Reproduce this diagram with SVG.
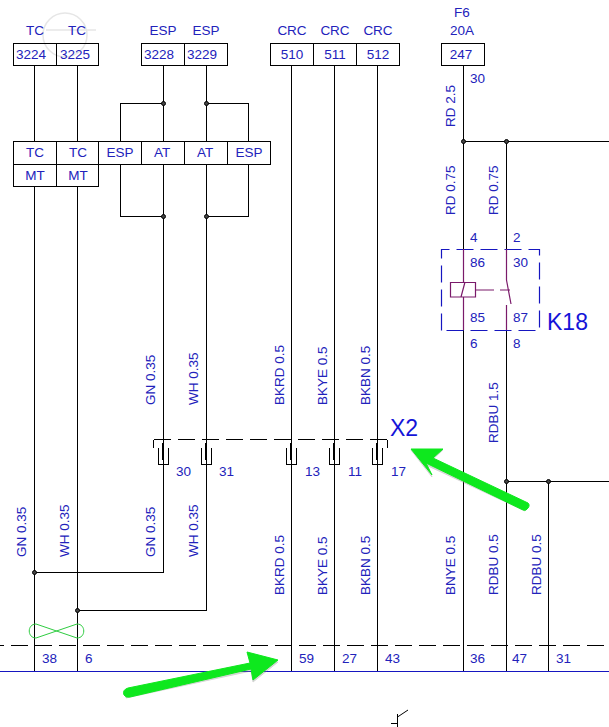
<svg xmlns="http://www.w3.org/2000/svg" width="609" height="727" viewBox="0 0 609 727">
<style>
text{font-family:"Liberation Sans",Arial,sans-serif;font-size:13.5px;fill:#2222bb}
.c{text-anchor:middle}
.b,.w{fill:none;stroke:#000;stroke-width:1;shape-rendering:crispEdges}
.d{fill:none;stroke:#000;stroke-width:1;stroke-dasharray:17 7;shape-rendering:crispEdges}
.j{fill:#444;stroke:#000;stroke-width:1}
.p{fill:none;stroke:#7a1a6a;stroke-width:1.2}
.g{fill:#0ee81e;stroke:#0ee81e;stroke-linejoin:round}
.s{fill:#888;stroke:#888;opacity:.35;stroke-linejoin:round}
.big{font-size:23px;fill:#1414d8}
</style>
<rect width="609" height="727" fill="#fff"/>
<g id="watermark" fill="none" stroke="#e6e6e6" stroke-width="1.5"><circle cx="65" cy="35" r="22"/><path d="M46 30H96"/></g>
<g id="connectors">
<path class="w" d="M34.500 65V141M34.500 186V671M77.500 65V141M77.500 186V671M163.500 65V141M163.500 164V572.500H34.500M206.500 65V141M206.500 164V610.500H77.500"/>
<path class="w" d="M120.500 141V103.500H163.500M248.500 141V103.500H206.500M120.500 164V216.500H163.500M248.500 164V216.500H206.500"/>
<path class="w" d="M291.500 65V671M334.500 65V671M377.500 65V671M463.500 65V282M463.500 297V671M506.500 141V280M506.500 305V671M548.500 481V671M463.500 141.500H609M506.500 481.500H609"/>
<path class="d" d="M153.500 439.500H387"/>
<path class="w" d="M153.500 439.500V448M387.500 439.500V448"/>
<path class="d" d="M0 645.500H609" stroke-dashoffset="13"/>
<path d="M0 671.500H609" fill="none" stroke="#1616c0" stroke-width="1" shape-rendering="crispEdges"/>
<path class="w" style="shape-rendering:auto" d="M397.500 727V714M391 723.500H397.500M397.500 717L408 710"/>
<circle class="j" cx="163.500" cy="103.500" r="2"/><circle class="j" cx="206.500" cy="103.500" r="2"/>
<circle class="j" cx="163.500" cy="216.500" r="2"/><circle class="j" cx="206.500" cy="216.500" r="2"/>
<circle class="j" cx="34.500" cy="572.500" r="2"/><circle class="j" cx="77.500" cy="610.500" r="2"/>
<circle class="j" cx="463.500" cy="141.500" r="2"/><circle class="j" cx="506.500" cy="141.500" r="2"/>
<circle class="j" cx="506.500" cy="481.500" r="2"/><circle class="j" cx="548.500" cy="481.500" r="2"/>
</g>
<g id="top-tc"><path class="b" d="M13.500 43.500H98.500V65.500H13.500ZM56.500 43.500V65"/>
<text class="c" x="35" y="35">TC</text><text class="c" x="77" y="35">TC</text>
<text class="c" x="31" y="59">3224</text><text class="c" x="75" y="59">3225</text></g>
<g id="top-esp"><path class="b" d="M141.500 43.500H227.500V65.500H141.500ZM184.500 43.500V65"/>
<text class="c" x="163" y="35">ESP</text><text class="c" x="206" y="35">ESP</text>
<text class="c" x="159" y="59">3228</text><text class="c" x="202" y="59">3229</text></g>
<g id="top-crc"><path class="b" d="M270.500 43.500H399.500V65.500H270.500ZM313.500 43.500V65M356.500 43.500V65"/>
<text class="c" x="292" y="35">CRC</text><text class="c" x="335" y="35">CRC</text><text class="c" x="378" y="35">CRC</text>
<text class="c" x="292" y="59">510</text><text class="c" x="335" y="59">511</text><text class="c" x="378" y="59">512</text></g>
<g id="fuse-f6"><path class="b" d="M441.500 43.500H484.500V65.500H441.500Z"/>
<text class="c" x="462" y="17">F6</text><text class="c" x="462" y="35">20A</text><text class="c" x="461" y="59">247</text>
<text x="470" y="83">30</text></g>
<g id="mid-block"><path class="b" d="M13.500 141.500H270.500V164.500H13.500ZM13.500 164V186.500H98.500V164M56.500 141.500V186M98.500 141.500V164M141.500 141.500V164M184.500 141.500V164M227.500 141.500V164"/>
<text class="c" x="35" y="157">TC</text><text class="c" x="78" y="157">TC</text><text class="c" x="120" y="157">ESP</text><text class="c" x="162" y="157">AT</text><text class="c" x="205" y="157">AT</text><text class="c" x="249" y="157">ESP</text>
<text class="c" x="35" y="180">MT</text><text class="c" x="78" y="180">MT</text></g>
<g id="relay-k18">
<path d="M441.500 330.500V249.500H539.500V330.500Z" fill="none" stroke="#1616c0" stroke-width="1.2" stroke-dasharray="17 7"/>
<path class="p" d="M463.500 249V282M463.500 297V330M450.500 282.500H475.500V297H450.500ZM465 282L461 297M475.500 290H494M500 290H510M506.500 249V280L511 304M506.500 305V330"/>
<text x="470" y="242">4</text><text x="513" y="242">2</text>
<text x="470" y="267">86</text><text x="513" y="267">30</text>
<text x="470" y="322">85</text><text x="513" y="322">87</text>
<text x="470" y="348">6</text><text x="513" y="348">8</text>
<text x="547" y="330" class="big">K18</text></g>
<g id="connector-x2">
<path class="b" d="M158.500 448V464.500H168.500V448M201.500 448V464.500H211.500V448M286.500 448V464.500H296.500V448M329.500 448V464.500H339.500V448M372.500 448V464.500H382.500V448"/>
<path d="M163 443V460M206 443V460M291 443V460M334 443V460M377 443V460" fill="none" stroke="#000" stroke-width="2"/>
<text x="176" y="476">30</text><text x="219" y="476">31</text><text x="305" y="476">13</text><text x="348" y="476">11</text><text x="391" y="476">17</text>
<text x="390" y="436" class="big">X2</text></g>
<g id="wire-labels">
<text transform="translate(455 127) rotate(-90)">RD 2.5</text>
<text transform="translate(455 215) rotate(-90)">RD 0.75</text>
<text transform="translate(498 215) rotate(-90)">RD 0.75</text>
<text transform="translate(155 405) rotate(-90)">GN 0.35</text>
<text transform="translate(198 405) rotate(-90)">WH 0.35</text>
<text transform="translate(284 405) rotate(-90)">BKRD 0.5</text>
<text transform="translate(327 405) rotate(-90)">BKYE 0.5</text>
<text transform="translate(370 405) rotate(-90)">BKBN 0.5</text>
<text transform="translate(498 443) rotate(-90)">RDBU 1.5</text>
<text transform="translate(26 557) rotate(-90)">GN 0.35</text>
<text transform="translate(69 557) rotate(-90)">WH 0.35</text>
<text transform="translate(155 557) rotate(-90)">GN 0.35</text>
<text transform="translate(198 557) rotate(-90)">WH 0.35</text>
<text transform="translate(284 595) rotate(-90)">BKRD 0.5</text>
<text transform="translate(327 595) rotate(-90)">BKYE 0.5</text>
<text transform="translate(370 595) rotate(-90)">BKBN 0.5</text>
<text transform="translate(455 595) rotate(-90)">BNYE 0.5</text>
<text transform="translate(498 595) rotate(-90)">RDBU 0.5</text>
<text transform="translate(541 595) rotate(-90)">RDBU 0.5</text>
</g>
<g id="bottom-pins">
<text x="42" y="663">38</text><text x="85" y="663">6</text><text x="299" y="663">59</text><text x="342" y="663">27</text><text x="385" y="663">43</text><text x="470" y="663">36</text><text x="512" y="663">47</text><text x="556" y="663">31</text>
</g>
<g id="twist"><path d="M36 624C27 624 27 638 36 638L77 624C86 624 86 638 77 638Z" fill="none" stroke="#2ecc40" stroke-width="1"/></g>
<g id="arrow-x2">
<path class="s" d="M525 511L426 465 432 477 411 450 443 450 433 459 528 505Z"/>
<path class="g" stroke-width="1" d="M411 449L443 449 433 458 528 503Q531 506 526 510Q524 511 521 509L426 463 432 475Z"/>
</g>
<g id="arrow-bottom">
<path class="s" d="M126 698L251 671 253 682 278 662 250 665 126 690Z"/>
<path class="g" stroke-width="1" d="M278 660L247 652 250 663 128 688Q122 690 124 695Q126 698 130 697L251 669 253 680Z"/>
</g>
</svg>
